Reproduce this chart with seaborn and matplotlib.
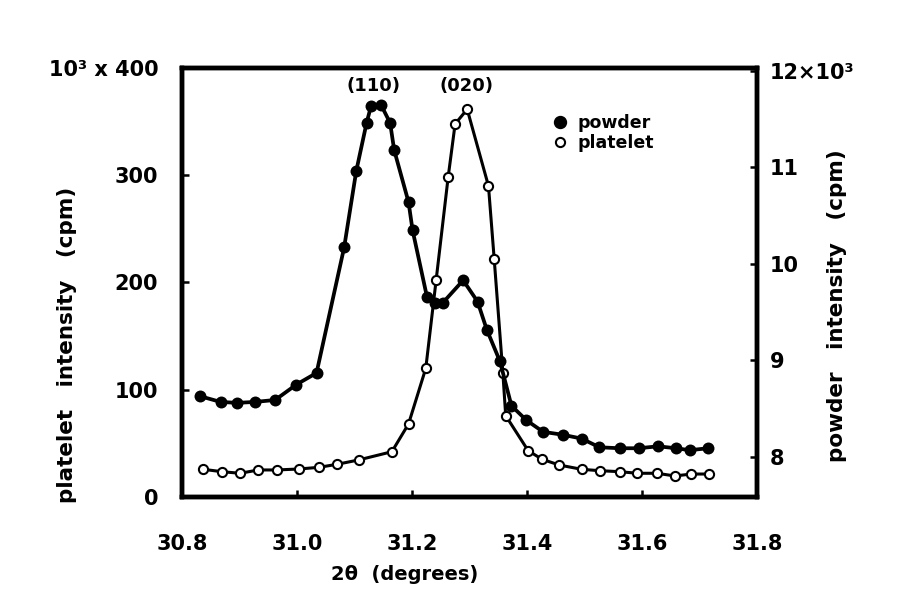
import numpy as np
import pandas as pd
import matplotlib
matplotlib.use('Agg')
import matplotlib.pyplot as plt
import seaborn as sns
from matplotlib.lines import Line2D

# ========== 数据 ==========
# powder（实心点，右轴，单位 10^3 cpm）
powder_2theta = [30.831, 30.867, 30.896, 30.927, 30.962, 30.999, 31.034, 31.082,
                 31.103, 31.121, 31.129, 31.146, 31.162, 31.169, 31.194, 31.201,
                 31.226, 31.240, 31.254, 31.289, 31.314, 31.330, 31.353, 31.373,
                 31.399, 31.428, 31.462, 31.495, 31.526, 31.561, 31.594, 31.628,
                 31.659, 31.683, 31.715]
powder_counts = [8.63, 8.57, 8.56, 8.57, 8.59, 8.75, 8.87, 10.17,
                 10.96, 11.46, 11.64, 11.65, 11.46, 11.18, 10.64, 10.35,
                 9.66, 9.59, 9.60, 9.83, 9.61, 9.32, 8.99, 8.53,
                 8.38, 8.26, 8.23, 8.19, 8.10, 8.09, 8.09, 8.11,
                 8.09, 8.07, 8.09]

# platelet（空心点，左轴，cpm）
platelet_2theta = [30.837, 30.869, 30.901, 30.933, 30.965, 31.004, 31.039, 31.070,
                   31.107, 31.165, 31.194, 31.224, 31.242, 31.263, 31.275, 31.296,
                   31.333, 31.343, 31.358, 31.363, 31.402, 31.426, 31.456, 31.495,
                   31.527, 31.561, 31.592, 31.626, 31.657, 31.686, 31.717]
platelet_counts = [25.8, 23.6, 22.1, 25.2, 25.2, 26.1, 27.7, 30.5,
                   34.5, 42.2, 68.1, 120.0, 202.3, 298.7, 347.8, 361.5,
                   290.0, 221.6, 115.8, 75.8, 43.2, 35.2, 29.8, 25.8,
                   24.5, 23.6, 22.1, 22.1, 19.6, 21.4, 21.4]

x_ticks = [30.8, 31.0, 31.2, 31.4, 31.6, 31.8]
x_ticklabels = ['30.8', '31.0', '31.2', '31.4', '31.6', '31.8']
left_ticks = [0, 100, 200, 300, 400]
left_ticklabels = ['0', '100', '200', '300', '10³ x 400']
right_ticks = [8, 9, 10, 11, 12]
right_ticklabels = ['8', '9', '10', '11', '12×10³']

peak_labels = ['(110)', '(020)']
peak_pos = [31.133, 31.295]

# ========== 样式 ==========
sns.set_theme(style='ticks')
plt.rcParams['font.family'] = ['DejaVu Sans']
plt.rcParams['font.weight'] = 'bold'
for k in ['text.color', 'axes.labelcolor', 'xtick.color', 'ytick.color', 'axes.edgecolor']:
    plt.rcParams[k] = 'black'

df_powder = pd.DataFrame({'two_theta': powder_2theta, 'counts': powder_counts})
df_platelet = pd.DataFrame({'two_theta': platelet_2theta, 'counts': platelet_counts})

fig = plt.figure(figsize=(9.04, 6.08), dpi=100)
fig.patch.set_facecolor('white')
ax = fig.add_axes([0.2013, 0.1826, 0.6361, 0.7056])
ax2 = ax.twinx()

sns.lineplot(data=df_platelet, x='two_theta', y='counts', ax=ax, color='black',
             linewidth=2.2, marker='o', markersize=6.6, markerfacecolor='white',
             markeredgecolor='black', markeredgewidth=1.5, sort=True)
sns.lineplot(data=df_powder, x='two_theta', y='counts', ax=ax2, color='black',
             linewidth=2.7, marker='o', markersize=8.6, markerfacecolor='black',
             markeredgecolor='black', markeredgewidth=0, sort=True)

ax.set_xlim(30.8, 31.8)
ax.set_ylim(0, 400)
ax2.set_ylim(7.585, 12.03)

ax.set_xticks(x_ticks)
ax.set_xticklabels(x_ticklabels, fontsize=15, fontweight='bold')
ax.set_yticks(left_ticks)
ax.set_yticklabels(left_ticklabels, fontsize=15, fontweight='bold')
ax2.set_yticks(right_ticks)
ax2.set_yticklabels(right_ticklabels, fontsize=15, fontweight='bold')

ax.tick_params(axis='x', direction='in', length=5, width=1.8, pad=27, top=False)
ax.tick_params(axis='y', direction='in', length=5, width=1.8, pad=17, right=False)
ax2.tick_params(axis='y', direction='in', length=5, width=1.8, pad=9, left=False)

for a in (ax, ax2):
    for s in a.spines.values():
        s.set_linewidth(3.2)
        s.set_color('black')
    a.grid(False)

ax.set_xlabel('2θ  (degrees)', fontsize=14, fontweight='bold')
ax.xaxis.set_label_coords(0.388, -0.158)
ax.set_ylabel('platelet   intensity   (cpm)', fontsize=15.5, fontweight='bold')
ax.yaxis.set_label_coords(-0.183, 0.354)
ax2.set_ylabel('powder   intensity   (cpm)', fontsize=15.5, fontweight='bold')
ax2.yaxis.set_label_coords(1.122, 0.445)

for lab, xp in zip(peak_labels, peak_pos):
    ax.text(xp, 383, lab, ha='center', va='center', fontsize=13, fontweight='bold')

handles = [Line2D([], [], linestyle='none', marker='o', markersize=8.6,
                  markerfacecolor='black', markeredgecolor='black', label='powder'),
           Line2D([], [], linestyle='none', marker='o', markersize=6.6,
                  markerfacecolor='white', markeredgecolor='black',
                  markeredgewidth=1.5, label='platelet')]
ax2.legend(handles=handles, loc='center left', bbox_to_anchor=(0.645, 0.848),
           frameon=False, handlelength=0.8, handletextpad=0.6,
           labelspacing=0.15, borderpad=0, borderaxespad=0,
           prop={'weight': 'bold', 'size': 12.5})

fig.savefig('out.png', dpi=100, facecolor='white')
